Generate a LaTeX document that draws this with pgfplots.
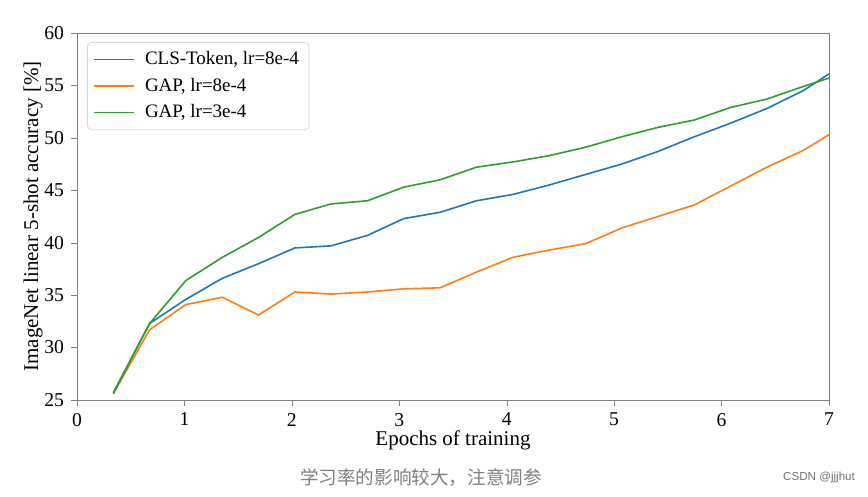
\documentclass[border=0pt]{standalone}
\usepackage{pgfplots}
\pgfplotsset{compat=1.18}
\usepackage{fontspec}
\setmainfont{Liberation Serif}
\newfontfamily\cjk{Noto Sans CJK SC}
\newfontfamily\csdn{Liberation Sans}

\definecolor{mplblue}{HTML}{1F77B4}
\definecolor{mplorange}{HTML}{FF7F0E}
\definecolor{mplgreen}{HTML}{2CA02C}
\definecolor{spine}{HTML}{808080}

\begin{document}
\begin{tikzpicture}
  % page = 868 x 497 px, 1 px = 0.5 pt
  \path[use as bounding box] (0,0) rectangle (434pt,248.5pt);
  \begin{axis}[
    at={(38.5pt,48.5pt)}, anchor=south west,
    scale only axis, width=376pt, height=183.5pt,
    xmin=0, xmax=7, ymin=25, ymax=60,
    xtick={0,1,...,7}, ytick={25,30,...,60},
    xtick pos=bottom, ytick pos=left,
    tick align=outside, major tick length=3pt,
    axis line style={spine}, tick style={spine},
    every tick label/.append style={font=\fontsize{9.8}{12}\selectfont},
    /pgf/number format/assume math mode=true,
    xlabel={Epochs of training},
    ylabel={ImageNet linear 5-shot accuracy [\%]},
    label style={font=\fontsize{10.5}{12}\selectfont},
    xlabel style={at={(axis description cs:0.5,-0.11)}, anchor=center},
    ylabel style={at={(axis description cs:-0.0585,0.5)}, anchor=center},
    legend cell align=left,
    legend style={at={(rel axis cs:0.0133,0.9755)}, anchor=north west,
      draw=black!15, rounded corners=2pt, fill=white,
      font=\fontsize{9.5}{11}\selectfont, row sep=1.2pt,
      inner xsep=3pt, inner ysep=2.5pt},
    legend image code/.code={\draw[#1] (0pt,0pt) -- (20pt,0pt); \path (23pt,0pt);},
    every axis plot/.append style={line width=0.8pt},
  ]
    % CLS-Token, lr=8e-4
    \addplot[mplblue] coordinates {
      (0.338,25.7) (0.676,32.3) (1.014,34.6) (1.352,36.6) (1.690,38.0)
      (2.028,39.5) (2.366,39.7) (2.704,40.7) (3.042,42.3) (3.380,42.9)
      (3.718,44.0) (4.056,44.6) (4.394,45.5) (4.732,46.5) (5.070,47.5)
      (5.408,48.7) (5.746,50.1) (6.084,51.4) (6.422,52.8) (6.760,54.5)
      (7.000,56.1)};
    \addlegendentry{CLS-Token, lr=8e-4}
    % GAP, lr=8e-4
    \addplot[mplorange] coordinates {
      (0.338,25.6) (0.676,31.7) (1.014,34.1) (1.352,34.8) (1.690,33.1)
      (2.028,35.3) (2.366,35.1) (2.704,35.3) (3.042,35.6) (3.380,35.7)
      (3.718,37.2) (4.056,38.6) (4.394,39.3) (4.732,39.9) (5.070,41.4)
      (5.408,42.5) (5.746,43.6) (6.084,45.4) (6.422,47.2) (6.760,48.8)
      (7.000,50.3)};
    \addlegendentry{GAP, lr=8e-4}
    % GAP, lr=3e-4
    \addplot[mplgreen] coordinates {
      (0.338,25.6) (0.676,32.3) (1.014,36.4) (1.352,38.6) (1.690,40.5)
      (2.028,42.7) (2.366,43.7) (2.704,44.0) (3.042,45.3) (3.380,46.0)
      (3.718,47.2) (4.056,47.7) (4.394,48.3) (4.732,49.1) (5.070,50.1)
      (5.408,51.0) (5.746,51.7) (6.084,52.9) (6.422,53.7) (6.760,54.9)
      (7.000,55.7)};
    \addlegendentry{GAP, lr=3e-4}
  \end{axis}
  \node[text=black!50, font=\cjk\fontsize{9.3}{11}\selectfont] at (210.5pt,9.5pt) {学习率的影响较大，注意调参};
  \node[text=black!55, font=\csdn\fontsize{5.8}{7}\selectfont, anchor=east] at (431pt,9.5pt) {CSDN @jjjhut};
\end{tikzpicture}
\end{document}
